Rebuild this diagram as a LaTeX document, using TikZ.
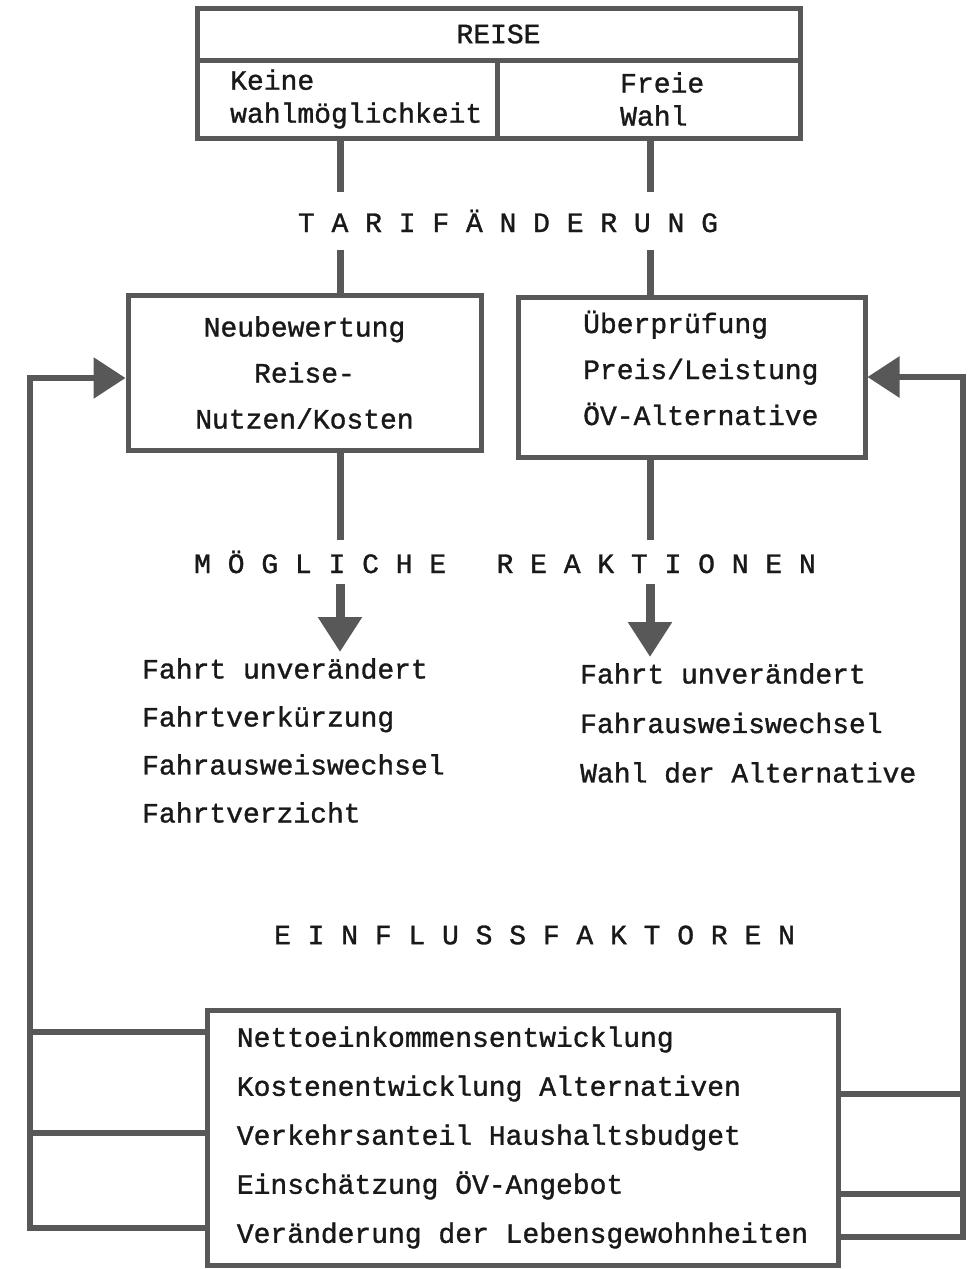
\documentclass[tikz,border=0pt]{standalone}
\usepackage{fontspec}
\setmainfont{Liberation Mono}[FakeBold=1.2]
\usetikzlibrary{arrows.meta}
\definecolor{strich}{RGB}{88,88,88}
\definecolor{tinte}{RGB}{25,25,25}

\begin{document}
\begin{tikzpicture}[x=1pt,y=-1pt,
    every node/.style={text=tinte,font=\fontsize{28}{33}\selectfont},
    rbox/.style={draw=strich,line width=5pt,inner sep=0pt},
    wire/.style={draw=strich,line width=7pt},
    back/.style={draw=strich,line width=6pt,line join=miter},
    bigtip/.style={draw=strich,line width=9pt,-{Triangle[width=42pt,length=35pt]}},
    sidetip/.style={-{Triangle[width=40pt,length=32pt]}}]
          \useasboundingbox (0,0) rectangle (968,1269);
          \coordinate (lcol) at (340,0);
          \coordinate (rcol) at (650,0);
          % Reise
          \node[rbox,minimum width=603pt,minimum height=52pt] (reise) at (498.5,34) {REISE};
          \node[rbox,minimum width=300pt,minimum height=78pt] (keine) at (347,99) {};
          \node[anchor=west,inner sep=0pt,align=left] (keinetxt) at (230,99) {Keine\\wahlmöglichkeit};
          \node[rbox,minimum width=303pt,minimum height=78pt] (freie) at (648.5,99) {};
          \node[anchor=west,inner sep=0pt,align=left] (freietxt) at (620,99) {Freie\\Wahl};
          \node[inner sep=0pt,minimum height=58pt] (tarif) at (508,221) {T A R I F Ä N D E R U N G};
          \draw[wire] (lcol |- keine.south) -- (lcol |- tarif.north);
          \draw[wire] (rcol |- freie.south) -- (rcol |- tarif.north);
          % Bewertung
          \node[rbox,minimum width=353pt,minimum height=155pt,align=center,font=\fontsize{28}{46}\selectfont] (neu) at (304.5,372.5) {Neubewertung\\Reise-\\Nutzen/Kosten};
          \node[rbox,minimum width=347pt,minimum height=160pt] (ueber) at (691.5,377) {};
          \node[anchor=west,inner sep=0pt,align=left,font=\fontsize{28}{46}\selectfont] (uebertxt) at (583,368) {Überprüfung\\Preis/Leistung\\ÖV-Alternative};
          \draw[wire] (lcol |- tarif.south) -- (lcol |- neu.north);
          \draw[wire] (rcol |- tarif.south) -- (rcol |- ueber.north);
          % Reaktionen
          \node[inner sep=0pt,minimum height=44pt] (reakt) at (505,562) {M Ö G L I C H E\ \ \ R E A K T I O N E N};
          \draw[wire] (lcol |- neu.south) -- (lcol |- reakt.north);
          \draw[wire] (rcol |- ueber.south) -- (rcol |- reakt.north);
          \node[anchor=north west,inner xsep=0pt,inner ysep=6pt,align=left,font=\fontsize{28}{48}\selectfont] (llist) at (142,652) {Fahrt unverändert\\Fahrtverkürzung\\Fahrausweiswechsel\\Fahrtverzicht};
          \node[anchor=north west,inner xsep=0pt,inner ysep=6pt,align=left,font=\fontsize{28}{49.5}\selectfont] (rlist) at (580,657) {Fahrt unverändert\\Fahrausweiswechsel\\Wahl der Alternative};
          \draw[bigtip] (lcol |- reakt.south) -- (lcol |- llist.north);
          \draw[bigtip] (rcol |- reakt.south) -- (rcol |- rlist.north);
          % Einflussfaktoren
          \node[inner sep=0pt] (einfl) at (534.5,935) {E I N F L U S S F A K T O R E N};
          \node[rbox,minimum width=631pt,minimum height=255pt,align=left,font=\fontsize{28}{49}\selectfont] (fakt) at (522.5,1137.5) {Nettoeinkommensentwicklung\\Kostenentwicklung Alternativen\\Verkehrsanteil Haushaltsbudget\\Einschätzung ÖV-Angebot\\Veränderung der Lebensgewohnheiten};
          % Rueckkopplung
          \coordinate (lbend) at (30,378);
          \coordinate (rbend) at (963,377);
          \draw[back,sidetip] (fakt.west |- 0,1032) -| (lbend) -- (neu.west |- lbend);
          \draw[back] (fakt.west |- 0,1133) -- (lbend |- 0,1133);
          \draw[back] (fakt.west |- 0,1228) -| (lbend);
          \draw[back,sidetip] (fakt.east |- 0,1237) -| (rbend) -- (ueber.east |- rbend);
          \draw[back] (fakt.east |- 0,1094) -- (rbend |- 0,1094);
          \draw[back] (fakt.east |- 0,1194) -- (rbend |- 0,1194);
        \end{tikzpicture}
\end{document}
